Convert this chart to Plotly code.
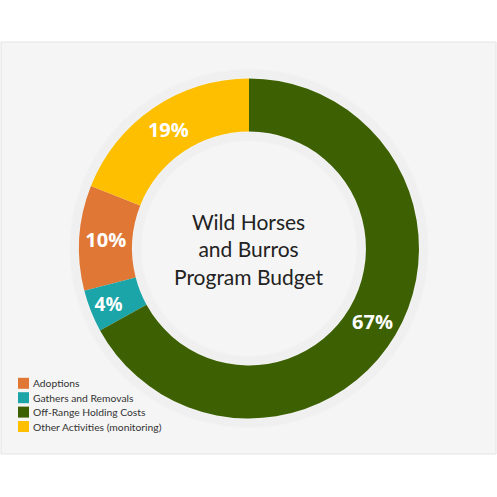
import plotly.graph_objects as go

# budget shares, in legend order
labels = ["Adoptions", "Gathers and Removals", "Off-Range Holding Costs", "Other Activities (monitoring)"]
shares = [10, 4, 67, 19]
colors = ["#e07735", "#1ba5a8", "#3d6102", "#fdbf00"]

center_title = "Wild Horses<br>and Burros<br>Program Budget"

W = H = 497
cx, cy, R = 249, 248.5, 170  # pixel centre / radius of the donut


def px(x):
    return x / W


def py(y):
    return (H - y) / H


fig = go.Figure(go.Pie(
    labels=labels,
    values=shares,
    hole=0.688,
    sort=False,
    direction="counterclockwise",
    rotation=-104.4,
    marker=dict(colors=colors, line=dict(width=0)),
    texttemplate="%{percent:.0%}",
    textposition="inside",
    insidetextorientation="horizontal",
    textfont=dict(family="Open Sans", size=20, color="white", weight="bold"),
    domain=dict(x=[px(cx - R), px(cx + R)], y=[py(cy + R), py(cy - R)]),
    showlegend=False,
    hoverinfo="skip",
))

fig.add_annotation(
    text=center_title, x=px(cx), y=py(cy), xref="paper", yref="paper",
    showarrow=False, font=dict(family="Lato", size=21, color="#222222"),
    xanchor="center", yanchor="middle",
)

# grey panel behind the chart
fig.add_shape(type="rect", xref="paper", yref="paper", x0=px(1), x1=px(496),
              y0=py(454), y1=py(42), fillcolor="#f5f5f5",
              line=dict(color="#e4e4e4", width=1), layer="below")

# soft shadow around the ring (stacked faint rings)
for k in range(6):
    for r in (R + 1 + k * 1.5, R * 0.688 - 1 - k * 1.5):
        fig.add_shape(type="circle", xref="paper", yref="paper",
                      x0=px(cx - r), x1=px(cx + r), y0=py(cy + r), y1=py(cy - r),
                      line=dict(color="rgba(0,0,0,0.012)", width=3), layer="below")

# legend drawn by hand to get the tight row spacing
for i, (lab, col) in enumerate(zip(labels, colors)):
    yc = 383.3 + i * 14.4
    fig.add_shape(type="rect", xref="paper", yref="paper",
                  x0=px(18), x1=px(29), y0=py(yc + 5.5), y1=py(yc - 5.5),
                  fillcolor=col, line=dict(width=0))
    fig.add_annotation(text=lab, x=px(30.5), y=py(yc), xref="paper", yref="paper",
                       showarrow=False, xanchor="left", yanchor="middle",
                       font=dict(family="Lato", size=10.3, color="#333333"))

fig.update_layout(
    width=W, height=H,
    margin=dict(l=0, r=0, t=0, b=0),
    paper_bgcolor="white",
    plot_bgcolor="white",
    showlegend=False,
)

fig.write_html("out.html", config={"displayModeBar": False},
               post_script="document.body.style.margin='0px';")
